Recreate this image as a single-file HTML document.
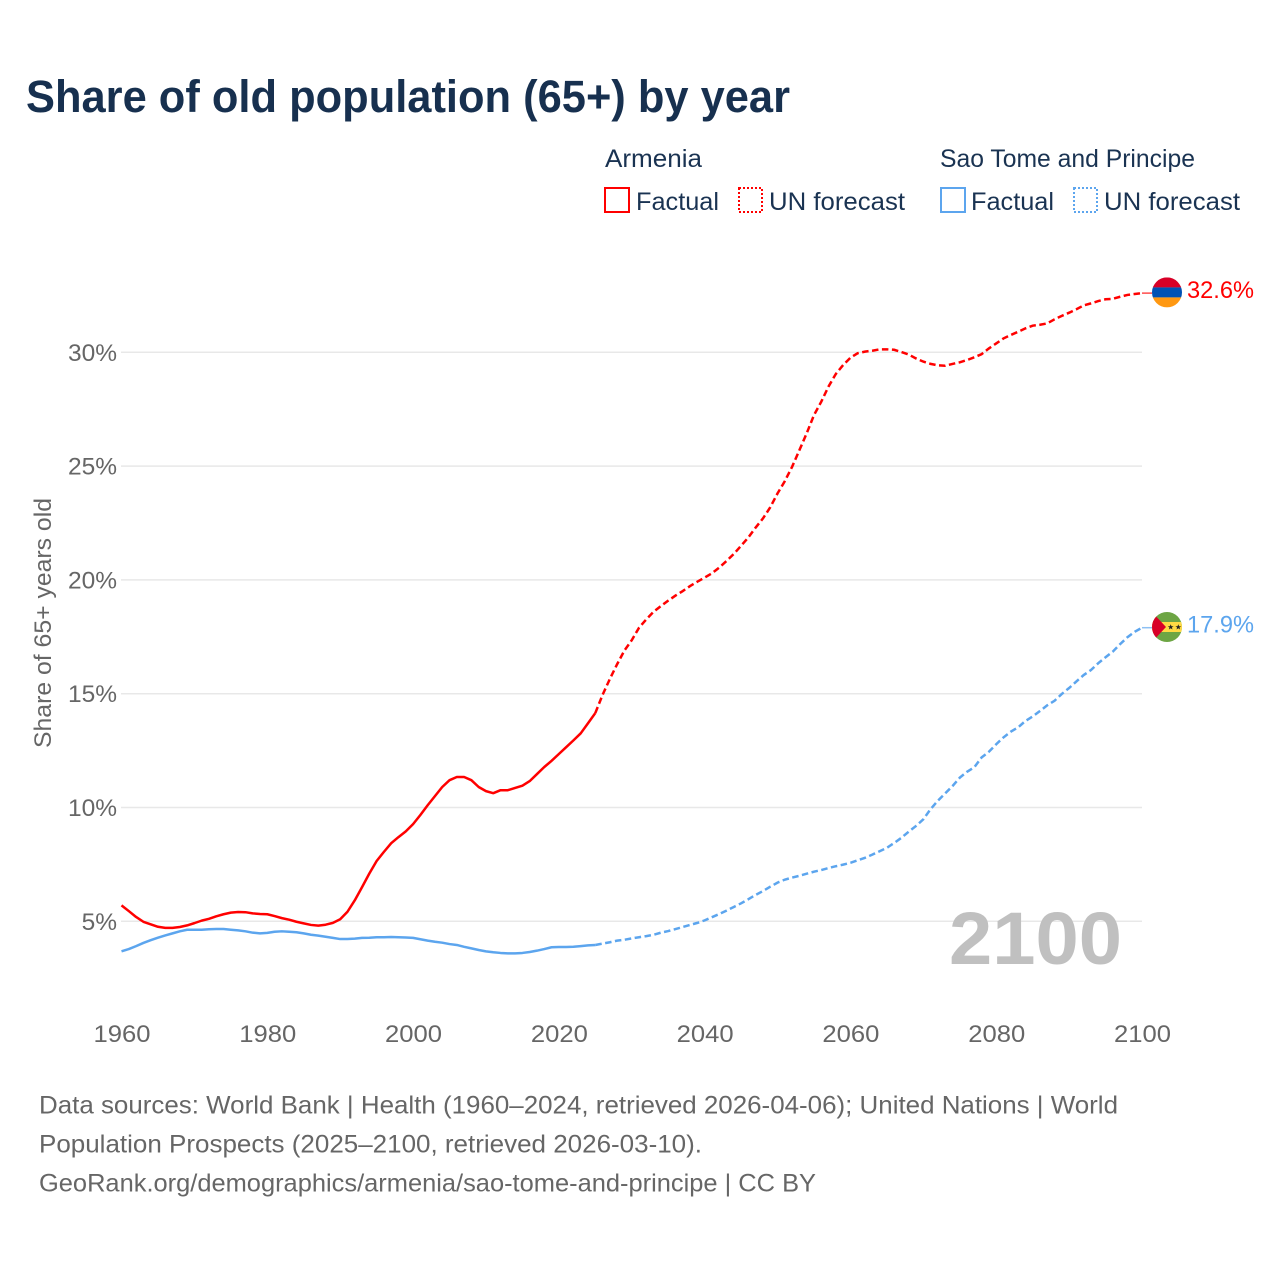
<!DOCTYPE html>
<html lang="en">
<head>
<meta charset="utf-8">
<title>Share of old population (65+) by year</title>
<style>
html,body{margin:0;padding:0;background:#fff;}
svg{display:block;font-family:"Liberation Sans",sans-serif;}
</style>
</head>
<body>
<svg id="chart" xmlns="http://www.w3.org/2000/svg" width="1280" height="1280" viewBox="0 0 1280 1280">
  <rect x="0" y="0" width="1280" height="1280" fill="#ffffff"/>
  <defs>
    <clipPath id="flag-clip"><circle cx="0" cy="0" r="15"/></clipPath>
  </defs>

  <text x="26" y="112" font-size="45" font-weight="700" fill="#17304f" textLength="764" lengthAdjust="spacingAndGlyphs">Share of old population (65+) by year</text>

  <g fill="#1a3352" font-size="25">
    <text x="605" y="167" textLength="97" lengthAdjust="spacingAndGlyphs">Armenia</text>
    <rect x="605" y="188" width="24" height="24" fill="none" stroke="#ff0000" stroke-width="2"/>
    <text x="636" y="210" textLength="83" lengthAdjust="spacingAndGlyphs">Factual</text>
    <rect x="739" y="188" width="23" height="24" fill="none" stroke="#ff0000" stroke-width="2" stroke-dasharray="2 2"/>
    <text x="769" y="210" textLength="136" lengthAdjust="spacingAndGlyphs">UN forecast</text>

    <text x="940" y="167" textLength="255" lengthAdjust="spacingAndGlyphs">Sao Tome and Principe</text>
    <rect x="941" y="188" width="24" height="24" fill="none" stroke="#5ca5ee" stroke-width="2"/>
    <text x="971" y="210" textLength="83" lengthAdjust="spacingAndGlyphs">Factual</text>
    <rect x="1074" y="188" width="23" height="24" fill="none" stroke="#5ca5ee" stroke-width="2" stroke-dasharray="2 2"/>
    <text x="1104" y="210" textLength="136" lengthAdjust="spacingAndGlyphs">UN forecast</text>
  </g>

  <g id="grid"></g>
  <g id="y-ticks"></g>
  <g id="x-ticks"></g>

  <text transform="translate(51,623) rotate(-90)" text-anchor="middle" font-size="24" fill="#666666" textLength="250" lengthAdjust="spacingAndGlyphs">Share of 65+ years old</text>

  <text x="949" y="964" font-size="74" font-weight="700" fill="#c0c0c0" textLength="173" lengthAdjust="spacingAndGlyphs">2100</text>

  <g id="series"></g>

  <g id="flag-armenia">
    <g clip-path="url(#flag-clip)">
      <rect x="-15" y="-15" width="30" height="10" fill="#d80027"/>
      <rect x="-15" y="-5" width="30" height="10" fill="#0052b4"/>
      <rect x="-15" y="5" width="30" height="10" fill="#ff9811"/>
    </g>
  </g>
  <g id="flag-sao-tome">
    <g clip-path="url(#flag-clip)">
      <rect x="-15" y="-15" width="30" height="30" fill="#6da544"/>
      <rect x="-15" y="-5" width="30" height="10" fill="#ffda44"/>
      <polygon points="-15,-15 -1,0 -15,15" fill="#d80027"/>
      <polygon points="3.7,-2.8 4.5,-0.8 6.600,-0.8 4.900,0.500 5.500,2.500 3.700,1.300 1.900,2.500 2.500,0.500 0.800,-0.800 2.900,-0.800" fill="#222222"/>
      <polygon points="11.3,-2.8 12.1,-0.8 14.200,-0.8 12.500,0.500 13.100,2.500 11.300,1.300 9.500,2.500 10.100,0.500 8.400,-0.800 10.500,-0.800" fill="#222222"/>
    </g>
  </g>
  <text id="value-armenia" x="1187" font-size="24" fill="#ff0000" textLength="67" lengthAdjust="spacingAndGlyphs"></text>
  <text id="value-sao-tome" x="1187" font-size="24" fill="#5ca5ee" textLength="67" lengthAdjust="spacingAndGlyphs"></text>

  <g font-size="25" fill="#666666">
    <text x="39" y="1113.500" textLength="1079" lengthAdjust="spacingAndGlyphs">Data sources: World Bank | Health (1960–2024, retrieved 2026-04-06); United Nations | World</text>
    <text x="39" y="1152.500" textLength="663" lengthAdjust="spacingAndGlyphs">Population Prospects (2025–2100, retrieved 2026-03-10).</text>
    <text x="39" y="1191.500" textLength="777" lengthAdjust="spacingAndGlyphs">GeoRank.org/demographics/armenia/sao-tome-and-principe | CC BY</text>
  </g>
</svg>
<script>
const xTickYears = [1960, 1980, 2000, 2020, 2040, 2060, 2080, 2100];
const yTickValues = [5, 10, 15, 20, 25, 30];
const factualStartYear = 1960;
const forecastStartYear = 2025;

const armeniaFactual = [
  5.70,5.45,5.19,4.98,4.87,4.76,4.71,4.71,4.75,4.82,
  4.92,5.03,5.11,5.22,5.31,5.38,5.41,5.40,5.35,5.32,
  5.31,5.23,5.14,5.07,4.98,4.91,4.84,4.81,4.85,4.93,
  5.09,5.42,5.92,6.50,7.10,7.65,8.05,8.43,8.70,8.95,
  9.27,9.67,10.10,10.50,10.90,11.20,11.34,11.34,11.20,10.90,
  10.72,10.63,10.76,10.76,10.86,10.96,11.16,11.47,11.78,12.05,
  12.35,12.65,12.95,13.26,13.70,14.15
];
const armeniaForecast = [
  14.15,14.95,15.65,16.30,16.90,17.35,17.90,18.27,18.60,18.85,
  19.09,19.31,19.51,19.73,19.92,20.10,20.29,20.54,20.83,21.14,
  21.50,21.87,22.30,22.70,23.19,23.80,24.34,24.97,25.70,26.44,
  27.24,27.83,28.50,29.05,29.44,29.76,29.96,30.03,30.07,30.13,
  30.13,30.11,30.01,29.90,29.73,29.59,29.49,29.43,29.41,29.49,
  29.56,29.66,29.78,29.92,30.17,30.39,30.61,30.76,30.90,31.05,
  31.17,31.21,31.27,31.45,31.60,31.74,31.89,32.06,32.15,32.25,
  32.33,32.35,32.44,32.52,32.56,32.60
];
const saoTomeFactual = [
  3.68,3.78,3.91,4.05,4.17,4.28,4.38,4.47,4.56,4.63,
  4.63,4.63,4.65,4.66,4.66,4.63,4.60,4.56,4.50,4.47,
  4.49,4.54,4.56,4.54,4.52,4.47,4.41,4.37,4.32,4.27,
  4.22,4.22,4.24,4.27,4.28,4.30,4.30,4.31,4.30,4.29,
  4.27,4.21,4.15,4.10,4.06,4.00,3.96,3.88,3.81,3.74,
  3.68,3.64,3.61,3.59,3.59,3.61,3.65,3.71,3.78,3.86,
  3.87,3.87,3.88,3.91,3.94,3.96
];
const saoTomeForecast = [
  3.96,4.02,4.08,4.15,4.19,4.25,4.30,4.35,4.41,4.50,
  4.57,4.66,4.75,4.84,4.93,5.04,5.18,5.32,5.47,5.63,
  5.79,5.97,6.16,6.33,6.52,6.70,6.83,6.92,7.00,7.09,
  7.18,7.25,7.34,7.42,7.49,7.57,7.68,7.79,7.93,8.08,
  8.23,8.44,8.67,8.94,9.19,9.48,9.93,10.30,10.62,10.94,
  11.31,11.57,11.77,12.20,12.45,12.78,13.08,13.33,13.52,13.80,
  14.00,14.24,14.49,14.69,14.99,15.25,15.54,15.82,16.04,16.34,
  16.60,16.85,17.18,17.48,17.72,17.90
];

const NS = 'http://www.w3.org/2000/svg';
const plotLeft = 121.5;
const plotRight = 1142;

function xScale(year) {
  return plotLeft + (year - 1960) * (plotRight - plotLeft) / 140;
}
function yScale(value) {
  return 921.3 - (value - 5) * 22.76;
}
function linePath(values, startYear) {
  return values.map(function (v, i) {
    return (i ? 'L' : 'M') + xScale(startYear + i).toFixed(2) + ' ' + yScale(v).toFixed(2);
  }).join(' ');
}
function make(tag, attrs, parent) {
  const el = document.createElementNS(NS, tag);
  Object.keys(attrs).forEach(function (k) { el.setAttribute(k, attrs[k]); });
  parent.appendChild(el);
  return el;
}

const gridGroup = document.getElementById('grid');
const yTickGroup = document.getElementById('y-ticks');
const xTickGroup = document.getElementById('x-ticks');
const seriesGroup = document.getElementById('series');

yTickValues.forEach(function (v) {
  const line = make('line', { x1: 121, x2: plotRight, y1: yScale(v), y2: yScale(v), stroke: '#e8e8e8', 'stroke-width': 1.5 }, gridGroup);
  
  
  const label = make('text', { x: 117, y: yScale(v) + 8.5, 'text-anchor': 'end', 'font-size': 24.5, fill: '#666666' }, yTickGroup);
  
  
  label.textContent = v + '%';
});

xTickYears.forEach(function (year) {
  const label = make('text', { x: xScale(year) + 0.5, y: 1042, 'text-anchor': 'middle', 'font-size': 24.5, fill: '#666666', textLength: 57, lengthAdjust: 'spacingAndGlyphs' }, xTickGroup);
  
  
  label.textContent = year;
});

function drawSeries(name, color, factual, forecast, flagId, labelId) {
  const solid = make('path', { d: linePath(factual, factualStartYear), fill: 'none', stroke: color, 'stroke-width': 2.5, 'stroke-linejoin': 'round' }, seriesGroup);
  
  

  const dashed = make('path', { d: linePath(forecast, forecastStartYear), fill: 'none', stroke: color, 'stroke-width': 2.5, 'stroke-dasharray': '6.5 3.5' }, seriesGroup);
  
  

  const last = forecast[forecast.length - 1];
  const lastY = yScale(last);

  const leader = make('line', { x1: plotRight, x2: 1152, y1: lastY, y2: lastY, stroke: color, 'stroke-width': 1.5, 'stroke-opacity': 0.7 }, seriesGroup);
  
  

  document.getElementById(flagId).setAttribute('transform', 'translate(1167,' + (lastY - 0.7).toFixed(2) + ')');
  const label = document.getElementById(labelId);
  label.setAttribute('y', (lastY + 5).toFixed(2));
  label.textContent = last.toFixed(1) + '%';
}

drawSeries('armenia', '#ff0000', armeniaFactual, armeniaForecast, 'flag-armenia', 'value-armenia');
drawSeries('sao-tome', '#5ca5ee', saoTomeFactual, saoTomeForecast, 'flag-sao-tome', 'value-sao-tome');
</script>
</body>
</html>
